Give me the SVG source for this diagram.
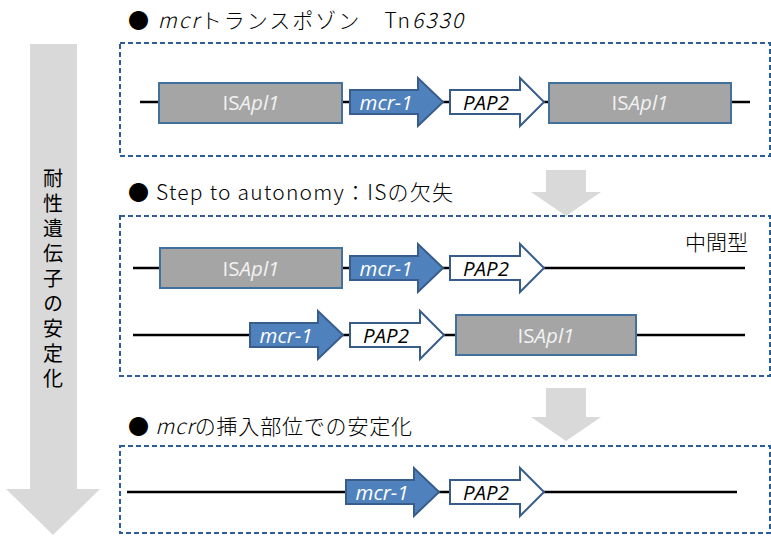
<svg xmlns="http://www.w3.org/2000/svg" width="771" height="538" viewBox="0 0 771 538">
<style>
.bg{fill:#ffffff}
.frame{fill:none;stroke:#2E5C96;stroke-width:2;stroke-dasharray:5,3}
.dna{stroke:#000;stroke-width:2.5;fill:none}
.is{fill:#A5A5A5;stroke:#41719C;stroke-width:2}
.mcr{fill:#4F81BD;stroke:#385D8A;stroke-width:2}
.pap{fill:#fff;stroke:#385D8A;stroke-width:2}
.big{fill:#D9D9D9}
.title{font-family:"Noto Sans CJK JP","Noto Sans",sans-serif;font-size:21px;font-weight:300;fill:#000}
.lab{font-family:"Open Sans","Liberation Sans",sans-serif;font-size:20.5px;font-style:italic}
.isl{fill:#F2F2F2;font-family:"Open Sans","Liberation Sans",sans-serif;font-size:20.5px}
.vt{font-family:"Noto Sans CJK JP",sans-serif;font-size:20px;fill:#000;writing-mode:vertical-rl;letter-spacing:5px}
</style>
<rect class="bg" width="771" height="538"/>

<g id="stabilization-arrow">
<path class="big" d="M30,44 H77 V489 H100 L53,535 L6,489 H30 Z"/>
<text class="vt" x="53" y="168">耐性遺伝子の安定化</text>
</g>

<g id="step-arrows">
<path class="big" d="M546,170 H586 V192 H601 L566,216 L531,192 H546 Z"/>
<path class="big" d="M546,388 H586 V417 H601 L566,441 L531,417 H546 Z"/>
</g>

<g id="section1">
<text class="title" x="128" y="28" textLength="335">● <tspan font-style="italic">mcr</tspan>トランスポゾン　Tn<tspan font-style="italic">6330</tspan></text>
<rect class="frame" x="120" y="43" width="650" height="113"/>
<line class="dna" x1="140" y1="102" x2="750" y2="102"/>
<g id="s1-is-left"><rect class="is" x="159" y="83" width="183" height="40"/><text class="isl" x="251" y="110" text-anchor="middle">IS<tspan font-style="italic">Apl1</tspan></text></g>
<g id="s1-mcr"><path class="mcr" d="M350,90 H418 V78 L443,102 L418,126 V114 H350 Z"/><text class="lab" x="386" y="110" fill="#fff" text-anchor="middle">mcr-1</text></g>
<g id="s1-pap"><path class="pap" d="M450,90 H520 V78 L544,102 L520,126 V114 H450 Z"/><text class="lab" x="486" y="110" fill="#000" text-anchor="middle">PAP2</text></g>
<g id="s1-is-right"><rect class="is" x="549" y="83" width="182" height="40"/><text class="isl" x="640" y="110" text-anchor="middle">IS<tspan font-style="italic">Apl1</tspan></text></g>
</g>

<g id="section2">
<text class="title" x="128" y="200" textLength="325">● Step to autonomy：ISの欠失</text>
<rect class="frame" x="120" y="216" width="650" height="160"/>
<text class="title" x="685" y="250" font-size="20">中間型</text>
<line class="dna" x1="133" y1="268" x2="745" y2="268"/>
<g id="s2-is-1"><rect class="is" x="160" y="248" width="182" height="40"/><text class="isl" x="251" y="276" text-anchor="middle">IS<tspan font-style="italic">Apl1</tspan></text></g>
<g id="s2-mcr-1"><path class="mcr" d="M350,256 H418 V244 L443,268 L418,292 V280 H350 Z"/><text class="lab" x="386" y="276" fill="#fff" text-anchor="middle">mcr-1</text></g>
<g id="s2-pap-1"><path class="pap" d="M450,256 H520 V244 L544,268 L520,292 V280 H450 Z"/><text class="lab" x="486" y="276" fill="#000" text-anchor="middle">PAP2</text></g>
<line class="dna" x1="133" y1="335" x2="745" y2="335"/>
<g id="s2-mcr-2"><path class="mcr" d="M250,323 H318 V311 L343,335 L318,359 V347 H250 Z"/><text class="lab" x="286" y="343" fill="#fff" text-anchor="middle">mcr-1</text></g>
<g id="s2-pap-2"><path class="pap" d="M350,323 H420 V311 L444,335 L420,359 V347 H350 Z"/><text class="lab" x="386" y="343" fill="#000" text-anchor="middle">PAP2</text></g>
<g id="s2-is-2"><rect class="is" x="456" y="315" width="180" height="40"/><text class="isl" x="546" y="343" text-anchor="middle">IS<tspan font-style="italic">Apl1</tspan></text></g>
</g>

<g id="section3">
<text class="title" x="128" y="434" textLength="284">● <tspan font-style="italic">mcr</tspan>の挿入部位での安定化</text>
<rect class="frame" x="120" y="446" width="650" height="87"/>
<line class="dna" x1="127" y1="492" x2="737" y2="492"/>
<g id="s3-mcr"><path class="mcr" d="M346,480 H414 V468 L439,492 L414,516 V504 H346 Z"/><text class="lab" x="382" y="500" fill="#fff" text-anchor="middle">mcr-1</text></g>
<g id="s3-pap"><path class="pap" d="M450,480 H520 V468 L544,492 L520,516 V504 H450 Z"/><text class="lab" x="486" y="500" fill="#000" text-anchor="middle">PAP2</text></g>
</g>
</svg>
